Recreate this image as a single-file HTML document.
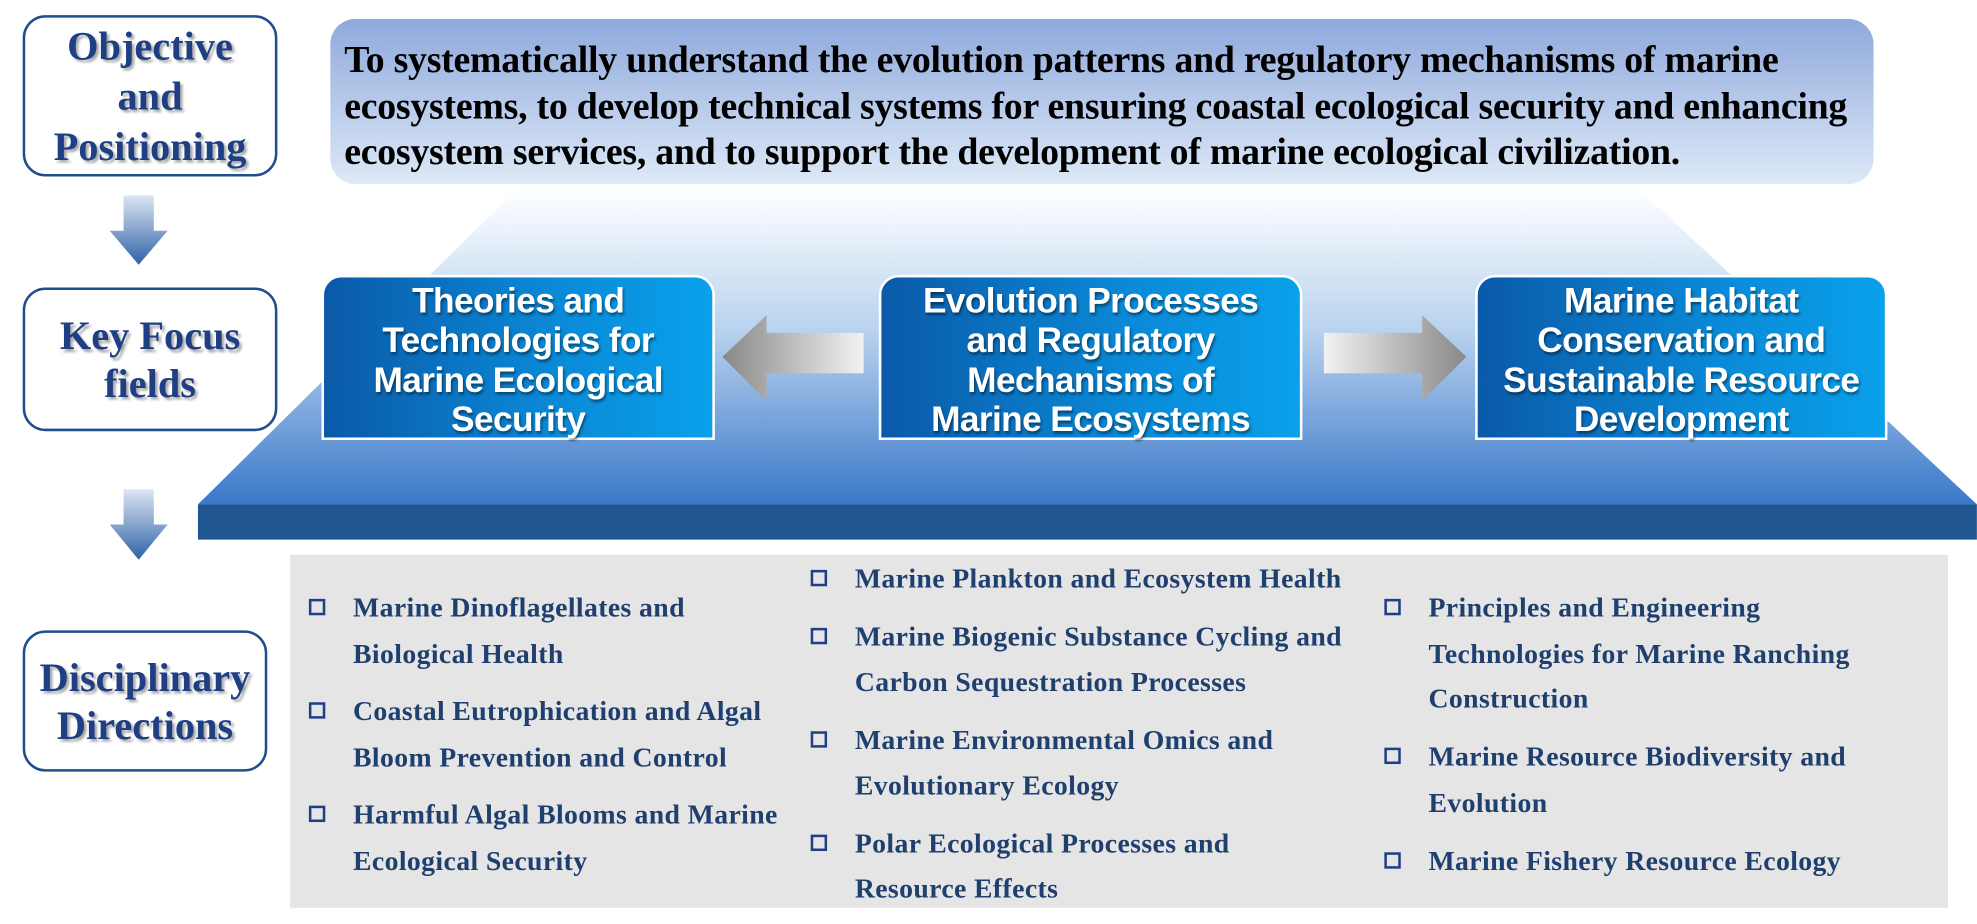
<!DOCTYPE html>
<html><head><meta charset="utf-8"><style>
html,body{margin:0;padding:0;background:#fff;overflow:hidden}
#wrap{width:1977px;height:924px;overflow:hidden;position:relative}
#c{position:absolute;left:0;top:0;width:1568px;height:733px;transform:scale(1.2608);transform-origin:0 0}
.a{position:absolute}
.lbox{position:absolute;border:2.5px solid #1f4e8c;border-radius:18px;background:#fff;display:flex;align-items:center;justify-content:center;text-align:center;font-family:"Liberation Serif",serif;font-weight:bold;color:#1f3f85;font-size:32px;line-height:40px;text-shadow:2px 2px 2px rgba(0,0,0,.35);box-sizing:border-box;white-space:nowrap}
.bb{position:absolute;border:2.5px solid #fff;border-radius:16px 16px 0 0;background:linear-gradient(90deg,#0a5aa8,#0a8ad8 60%,#0aa0ea);display:flex;align-items:center;justify-content:center;text-align:center;font-family:"Liberation Sans",sans-serif;font-weight:bold;color:#fff;font-size:28px;line-height:31.5px;text-shadow:1px 2px 2px rgba(0,0,0,.45);box-sizing:border-box;letter-spacing:-0.5px;white-space:nowrap;padding-top:4px}
.it{position:absolute;font-family:"Liberation Serif",serif;font-weight:bold;color:#1f3f6f;font-size:22px;line-height:24px;white-space:nowrap;letter-spacing:0.3px}
.sq{position:absolute;width:9px;height:9px;border:2.5px solid #1f3f85}
</style></head><body><div id="wrap"><div id="c">
<svg class="a" style="left:0;top:0" width="1568" height="733">
<defs>
<linearGradient id="tg" x1="0" y1="0" x2="0" y2="1"><stop offset="0" stop-color="#fff" stop-opacity="1"/><stop offset="0.45" stop-color="#b8d2ef"/><stop offset="1" stop-color="#3a78c8"/></linearGradient>
<linearGradient id="ag" x1="0" y1="0" x2="0" y2="1"><stop offset="0" stop-color="#dde6f4"/><stop offset="1" stop-color="#2f62a8"/></linearGradient>
<linearGradient id="gl" x1="0" y1="0" x2="1" y2="0"><stop offset="0" stop-color="#888"/><stop offset="1" stop-color="#f2f2f2"/></linearGradient>
<linearGradient id="gr" x1="0" y1="0" x2="1" y2="0"><stop offset="0" stop-color="#f2f2f2"/><stop offset="1" stop-color="#888"/></linearGradient>
</defs>
<polygon points="410,150 1300,150 1568,400 157,400" fill="url(#tg)"/>
<rect x="157" y="400" width="1411" height="28" fill="#1f5591"/>
<polygon points="98,155 122,155 122,183 133,183 110,210 87,183 98,183" fill="url(#ag)"/>
<polygon points="98,388 122,388 122,416 133,416 110,444 87,416 98,416" fill="url(#ag)"/>
<polygon points="685,264 608,264 608,250 573,283 608,318 608,296 685,296" fill="url(#gl)"/>
<polygon points="1050,264 1128,264 1128,250 1163,283 1128,318 1128,296 1050,296" fill="url(#gr)"/>
<rect x="230" y="440" width="1315" height="280" fill="#e5e5e5"/>
</svg>
<div class="lbox" style="left:18px;top:12px;width:202px;height:128px">Objective<br>and<br>Positioning</div>
<div class="lbox" style="left:18px;top:228px;width:202px;height:114px;line-height:38px">Key Focus<br>fields</div>
<div class="lbox" style="left:18px;top:500px;width:194px;height:112px;line-height:38px">Disciplinary<br>Directions</div>
<div class="a" style="left:262px;top:15px;width:1224px;height:131px;border-radius:20px;background:linear-gradient(#8fa9dc,#dde9f7)"></div>
<div class="a" style="left:273px;top:30px;font-family:'Liberation Serif',serif;font-weight:bold;font-size:30px;line-height:36.5px;color:#000;white-space:nowrap;letter-spacing:-0.2px">To systematically understand the evolution patterns and regulatory mechanisms of marine<br>ecosystems, to develop technical systems for ensuring coastal ecological security and enhancing<br>ecosystem services, and to support the development of marine ecological civilization.</div>
<div class="bb" style="left:255px;top:218px;width:312px;height:131px">Theories and<br>Technologies for<br>Marine Ecological<br>Security</div>
<div class="bb" style="left:697px;top:218px;width:336px;height:131px">Evolution Processes<br>and Regulatory<br>Mechanisms of<br>Marine Ecosystems</div>
<div class="bb" style="left:1170px;top:218px;width:327px;height:131px">Marine Habitat<br>Conservation and<br>Sustainable Resource<br>Development</div>
<div class="sq" style="left:245px;top:475px"></div><div class="it" style="left:280px;top:470px">Marine Dinoflagellates and</div><div class="it" style="left:280px;top:507px">Biological Health</div>
<div class="sq" style="left:245px;top:557px"></div><div class="it" style="left:280px;top:552px">Coastal Eutrophication and Algal</div><div class="it" style="left:280px;top:589px">Bloom Prevention and Control</div>
<div class="sq" style="left:245px;top:639px"></div><div class="it" style="left:280px;top:634px">Harmful Algal Blooms and Marine</div><div class="it" style="left:280px;top:671px">Ecological Security</div>
<div class="sq" style="left:643px;top:452px"></div><div class="it" style="left:678px;top:447px">Marine Plankton and Ecosystem Health</div>
<div class="sq" style="left:643px;top:498px"></div><div class="it" style="left:678px;top:493px">Marine Biogenic Substance Cycling and</div><div class="it" style="left:678px;top:529px">Carbon Sequestration Processes</div>
<div class="sq" style="left:643px;top:580px"></div><div class="it" style="left:678px;top:575px">Marine Environmental Omics and</div><div class="it" style="left:678px;top:611px">Evolutionary Ecology</div>
<div class="sq" style="left:643px;top:662px"></div><div class="it" style="left:678px;top:657px">Polar Ecological Processes and</div><div class="it" style="left:678px;top:693px">Resource Effects</div>
<div class="sq" style="left:1098px;top:475px"></div><div class="it" style="left:1133px;top:470px">Principles and Engineering</div><div class="it" style="left:1133px;top:507px">Technologies for Marine Ranching</div><div class="it" style="left:1133px;top:542px">Construction</div>
<div class="sq" style="left:1098px;top:593px"></div><div class="it" style="left:1133px;top:588px">Marine Resource Biodiversity and</div><div class="it" style="left:1133px;top:625px">Evolution</div>
<div class="sq" style="left:1098px;top:676px"></div><div class="it" style="left:1133px;top:671px">Marine Fishery Resource Ecology</div>
</div></div></body></html>
